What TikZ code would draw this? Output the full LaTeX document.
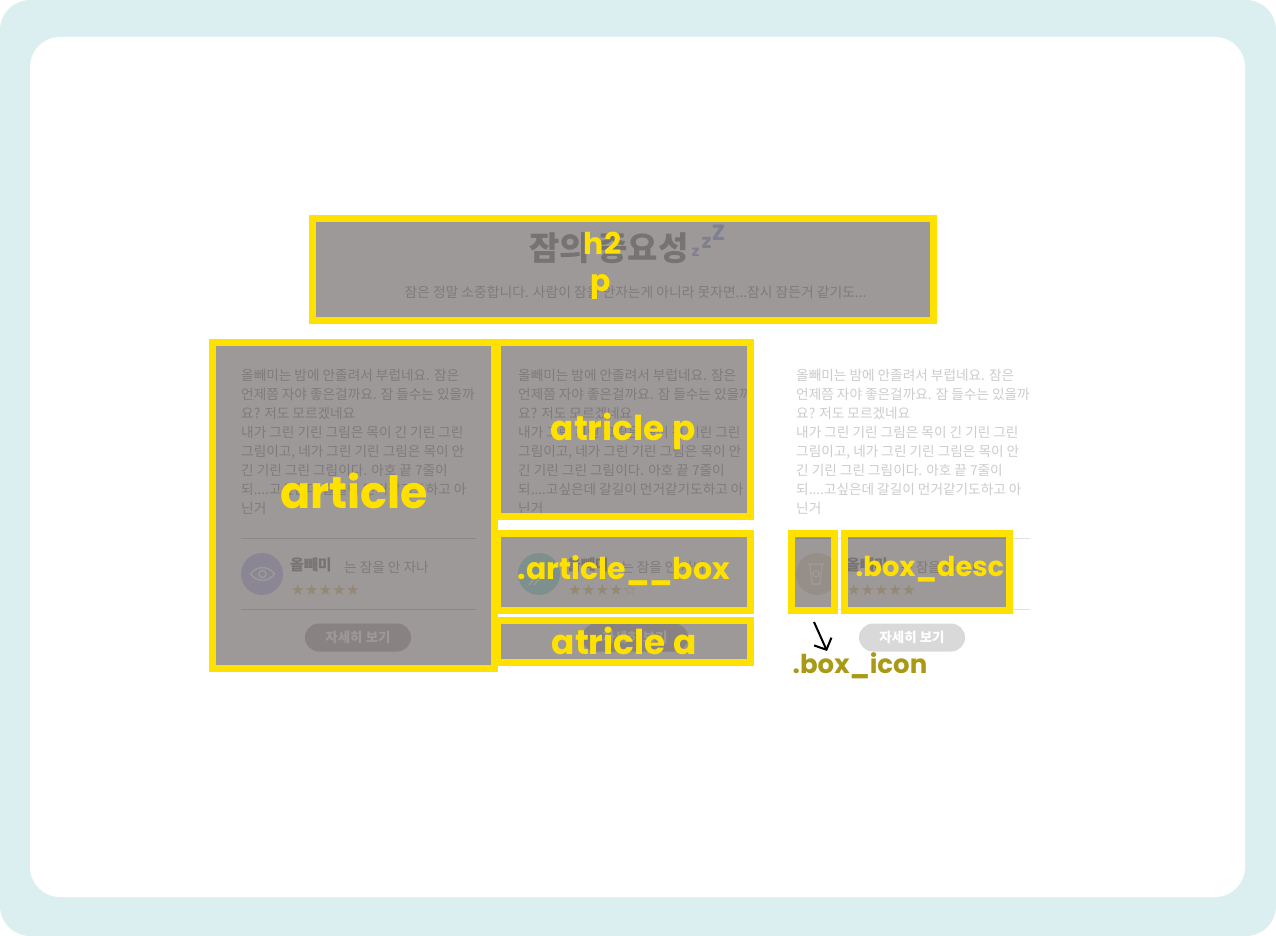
\documentclass[tikz,border=0pt]{standalone}
\usepackage{fontspec}
\usetikzlibrary{arrows.meta}
\newfontfamily\krfont{Noto Sans CJK KR}
\newfontfamily\labfont{Poppins}
\newfontfamily\symfont{DejaVu Sans}
\definecolor{frameblue}{HTML}{DCEFF0}
\definecolor{hlyellow}{HTML}{FFE100}
\definecolor{shade}{RGB}{24,12,12}
\definecolor{olive}{HTML}{A89A14}
\definecolor{bodygray}{HTML}{CCCCCC}
\definecolor{headgray}{HTML}{BEBEBE}
\definecolor{rulegray}{HTML}{E2E2E2}
\definecolor{btngray}{HTML}{D9D9D9}
\definecolor{stargold}{HTML}{EFE4C0}
\definecolor{zzzblue}{HTML}{C8D4EE}
\definecolor{eyecirc}{HTML}{DEDFF8}
\definecolor{tealcirc}{HTML}{C8F0EC}
\definecolor{cupcirc}{HTML}{F1EEE0}
\tikzset{
  hlbox/.style={draw=hlyellow,line width=7pt,fill=shade,fill opacity=.42,draw opacity=1,inner sep=0pt},
  lab/.style={text=hlyellow,inner sep=0pt,font=\labfont\bfseries\fontsize{#1}{#1}\selectfont},
  bodytext/.style={text=bodygray,inner sep=0pt,anchor=north west,align=left,font=\krfont\fontsize{13.65}{19}\selectfont},
  nametext/.style={text=headgray,inner sep=0pt,anchor=west,font=\krfont\bfseries\fontsize{15}{15}\selectfont},
  saytext/.style={text=bodygray,inner sep=0pt,anchor=west,font=\krfont\fontsize{13.65}{15}\selectfont},
  startext/.style={text=stargold,inner sep=0pt,anchor=west,font=\symfont\fontsize{15.3}{16}\selectfont},
  btn/.style={fill=btngray,rounded corners=14pt,minimum width=106pt,minimum height=28pt,inner sep=0pt,text=white,font=\krfont\bfseries\fontsize{13.5}{14}\selectfont},
  rulerow/.style={draw=rulegray,line width=1pt},
  iconline/.style={draw=white,line width=1.5pt}
}
\newcommand{\bodycopy}{올빼미는 밤에 안졸려서 부럽네요. 잠은\\언제쯤 자야 좋은걸까요. 잠 들수는 있을까\\요? 저도 모르겠네요\\내가 그린 기린 그림은 목이 긴 기린 그린\\그림이고, 네가 그린 기린 그림은 목이 안\\긴 기린 그린 그림이다. 아호 끝 7줄이\\되....고싶은데 갈길이 먼거같기도하고 아\\닌거}
\begin{document}
\begin{tikzpicture}[x=1pt,y=-1pt]
\useasboundingbox (0,0) rectangle (1276,936);
\fill[frameblue,rounded corners=30pt] (0,0) rectangle (1276,936);
\fill[white,rounded corners=30pt] (30,37) rectangle (1245,897);

% page heading
\node[text=headgray,inner sep=0pt,anchor=west,font=\krfont\bfseries\fontsize{33}{35}\selectfont] (title) at (529,248) {잠의 중요성};
\node[text=zzzblue,inner sep=0pt,font=\labfont\bfseries\fontsize{15}{15}\selectfont] (z1) at (695.5,252) {z};
\node[text=zzzblue,inner sep=0pt,font=\labfont\bfseries\fontsize{20}{20}\selectfont] (z2) at (706.5,243) {z};
\node[text=zzzblue,inner sep=0pt,font=\labfont\bfseries\fontsize{22}{22}\selectfont] (z3) at (718.5,233) {Z};
\node[text=bodygray,inner sep=0pt,font=\krfont\fontsize{13.8}{15}\selectfont] (sub) at (635.5,292) {잠은 정말 소중합니다. 사람이 잠을 안자는게 아니라 못자면...잠시 잠든거 같기도...};

% column 1
\node[bodytext] (t1) at (241,369.5) {\bodycopy};
\draw[rulerow] (241,538) -- (476,538);
\draw[rulerow] (241,609) -- (476,609);
\node[circle,fill=eyecirc,minimum size=42pt,inner sep=0pt] (c1) at (262,574) {};
\draw[iconline] (250.5,574) .. controls (257,565.5) and (268,565.5) .. (274.5,574) .. controls (268,582.5) and (257,582.5) .. (250.5,574) -- cycle;
\draw[iconline] (262.5,574) circle (3.6pt);
\node[nametext] (n1) at (290,565) {올빼미};
\node[saytext] (s1) at (344,567) {는 잠을 안 자나};
\node[startext] (r1) at (291,590) {★★★★★};
\node[btn] (b1) at (358,637.5) {자세히 보기};

% column 2
\node[bodytext] (t2) at (518,369.5) {\bodycopy};
\node[circle,fill=tealcirc,minimum size=42pt,inner sep=0pt] (c2) at (539,574) {};
\draw[iconline] (529,585) -- (534,579) (534,585) -- (539,579);
\node[nametext] (n2) at (567,565) {올빼미};
\node[saytext] (s2) at (621,567) {는 잠을 안 자나};
\node[startext] (r2) at (568,590) {★★★★☆};
\node[btn] (b2) at (635,637.5) {자세히 보기};

% column 3
\node[bodytext] (t3) at (796,369.5) {\bodycopy};
\draw[rulerow] (796,538) -- (1030,538);
\draw[rulerow] (796,609) -- (1030,609);
\node[circle,fill=cupcirc,minimum size=42pt,inner sep=0pt] (c3) at (817,574) {};
\draw[iconline] (808,564) -- (824,564) (810,564) -- (812,584) -- (820,584) -- (822,564);
\draw[iconline] (816,574) circle (3pt);
\node[nametext] (n3) at (846,565) {올빼미};
\node[saytext] (s3) at (900,567) {는 잠을 안 자나};
\node[startext] (r3) at (847,590) {★★★★★};
\node[btn] (b3) at (912,637.5) {자세히 보기};

% highlighted boxes
\node[hlbox,minimum width=621pt,minimum height=102pt] (headbox) at (623,269.5) {};
\node[hlbox,minimum width=282pt,minimum height=326pt] (articlebox) at (353.5,505.5) {};
\node[hlbox,minimum width=253pt,minimum height=174pt] (pbox) at (624,429.5) {};
\node[hlbox,minimum width=253pt,minimum height=77pt] (artbox) at (624,572) {};
\node[hlbox,minimum width=253pt,minimum height=42pt] (abox) at (624,641.5) {};
\node[hlbox,minimum width=43pt,minimum height=77pt] (iconbox) at (813,572) {};
\node[hlbox,minimum width=165pt,minimum height=77pt] (descbox) at (927,572) {};

% labels
\node[lab=30] (lh2) at (602.5,243) {h2};
\node[lab=30] (lp) at (601,287) {p};
\node[lab=44.5] (larticle) at (354,491) {article};
\node[lab=34.3] (lpp) at (623,431) {atricle p};
\node[lab=30] (lbox) at (624,570.5) {.article\_\_box};
\node[lab=34.3] (la) at (624,640.5) {atricle a};
\node[lab=27.4] (ldesc) at (930,569) {.box\_desc};
\node[lab=26,text=olive] (licon) at (860,666) {.box\_icon};

% arrow
\coordinate (arrowstart) at (814,622);
\coordinate (arrowend) at (827,651);
\draw[black,line width=2pt,-{Straight Barb[length=9pt,width=19pt]}] (arrowstart) -- (arrowend);
\end{tikzpicture}
\end{document}
